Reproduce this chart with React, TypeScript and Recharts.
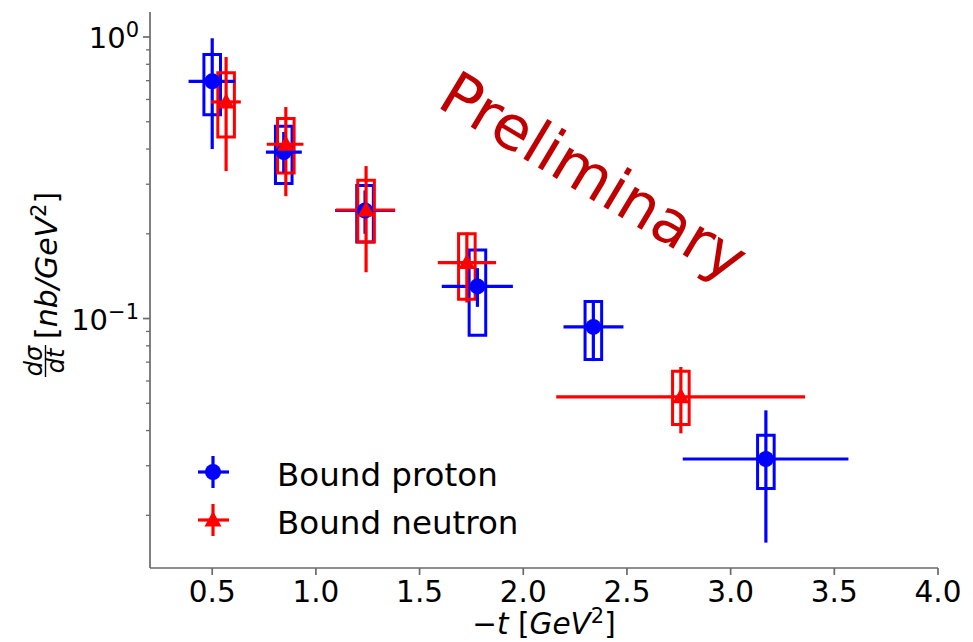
import React from 'react';
import {
  ScatterChart,
  Scatter,
  XAxis,
  YAxis,
  ErrorBar,
  ReferenceArea,
  Legend,
  Customized,
} from 'recharts';

const FONT = '"DejaVu Sans", "Liberation Sans", sans-serif';

// ---- Bound proton ----
const protonT = [0.5, 0.845, 1.237, 1.779, 2.338, 3.17];
const protonXsec = [0.696, 0.39, 0.242, 0.13, 0.0934, 0.0317];
const protonTLow = [0.386, 0.759, 1.093, 1.607, 2.194, 2.769];
const protonTHigh = [0.611, 0.932, 1.382, 1.95, 2.483, 3.568];
const protonStatLow = [0.4, 0.33, 0.2, 0.11, 0.0706, 0.016];
const protonStatHigh = [0.99, 0.46, 0.285, 0.151, 0.116, 0.0472];
const protonSysLow = [0.53, 0.302, 0.187, 0.0873, 0.0715, 0.0249];
const protonSysHigh = [0.866, 0.482, 0.297, 0.175, 0.115, 0.0385];

// ---- Bound neutron ----
const neutronT = [0.567, 0.855, 1.242, 1.728, 2.76];
const neutronXsec = [0.588, 0.416, 0.243, 0.158, 0.0527];
const neutronTLow = [0.494, 0.763, 1.096, 1.588, 2.159];
const neutronTHigh = [0.638, 0.94, 1.382, 1.869, 3.359];
const neutronStatLow = [0.334, 0.272, 0.146, 0.114, 0.0391];
const neutronStatHigh = [0.849, 0.564, 0.348, 0.202, 0.0673];
const neutronSysLow = [0.441, 0.329, 0.187, 0.117, 0.042];
const neutronSysHigh = [0.747, 0.513, 0.31, 0.2, 0.065];

const seriesNames = ['Bound proton', 'Bound neutron'];

// ---- axes ----
const xTicks = [0.5, 1.0, 1.5, 2.0, 2.5, 3.0, 3.5, 4.0];
const xDomain = [0.2, 4.0];
const yDomain = [0.013, 1.227];
const yMajorTicks = [0.1, 1];
const yMajorLabels = ['\u22121', '0'];
const yMinorTicks = [0.02, 0.03, 0.04, 0.05, 0.06, 0.07, 0.08, 0.09, 0.2, 0.3, 0.4, 0.5, 0.6, 0.7, 0.8, 0.9];

const BOX_HALF_WIDTH = 0.04;
const BLUE = '#0000ff';
const RED = '#ff0000';
const AXIS_COLOR = '#6a6a6a';
const ERR_W = 3.2;

function buildRows(t, v, tl, th, sl, sh, bl, bh) {
  return t.map((x, i) => ({
    x,
    y: v[i],
    ex: [x - tl[i], th[i] - x],
    ey: [v[i] - sl[i], sh[i] - v[i]],
    boxLow: bl[i],
    boxHigh: bh[i],
  }));
}

const protonRows = buildRows(protonT, protonXsec, protonTLow, protonTHigh, protonStatLow, protonStatHigh, protonSysLow, protonSysHigh);
const neutronRows = buildRows(neutronT, neutronXsec, neutronTLow, neutronTHigh, neutronStatLow, neutronStatHigh, neutronSysLow, neutronSysHigh);

const CircleMarker = (props: any) => {
  const { cx, cy } = props;
  if (cx == null || cy == null) return null;
  return <circle cx={cx} cy={cy} r={8} fill={BLUE} />;
};

const TriangleMarker = (props: any) => {
  const { cx, cy } = props;
  if (cx == null || cy == null) return null;
  return <path d={`M${cx},${cy - 9} L${cx + 8.5},${cy + 6.5} L${cx - 8.5},${cy + 6.5} Z`} fill={RED} />;
};

const YTick = (props: any) => {
  const { x, y, payload } = props;
  const v = payload.value;
  const mi = yMajorTicks.findIndex((m) => Math.abs(m - v) < 1e-9);
  const major = mi >= 0;
  return (
    <g>
      <line x1={x} x2={x - (major ? 7 : 4)} y1={y} y2={y} stroke={AXIS_COLOR} strokeWidth={major ? 1.7 : 1.3} />
      {major && (
        <text x={x - 11} y={y + 11} textAnchor="end" fontSize={29} fontFamily={FONT} fill="#000">
          <tspan>10</tspan>
          <tspan dy={-11} fontSize={21}>{yMajorLabels[mi]}</tspan>
        </text>
      )}
    </g>
  );
};

const XTick = (props: any) => {
  const { x, y, payload } = props;
  return (
    <g>
      <line x1={x} x2={x} y1={y} y2={y + 7} stroke={AXIS_COLOR} strokeWidth={1.7} />
      <text x={x} y={y + 34} textAnchor="middle" fontSize={29.5} fontFamily={FONT} fill="#000">
        {Number(payload.value).toFixed(1)}
      </text>
    </g>
  );
};

const XLabel = (props: any) => {
  const vb = props.viewBox || {};
  const cx = vb.x + vb.width / 2;
  const by = vb.y + 66;
  return (
    <text x={cx} y={by} textAnchor="middle" fontSize={29.5} fontFamily={FONT} fill="#000">
      <tspan>{'\u2212'}</tspan>
      <tspan fontStyle="italic">t</tspan>
      <tspan> [</tspan>
      <tspan fontStyle="italic">GeV</tspan>
      <tspan dy={-11} fontSize={21}>2</tspan>
      <tspan dy={11}>]</tspan>
    </text>
  );
};

const YLabel = (props: any) => {
  const vb = props.viewBox || {};
  const cx = 45;
  const cy = vb.y + vb.height / 2 - 3;
  return (
    <g transform={`rotate(-90, ${cx}, ${cy})`} fontFamily={FONT} fill="#000">
      <text x={cx - 74} y={cy - 3} textAnchor="middle" fontSize={24} fontStyle="italic">d{'\u03C3'}</text>
      <line x1={cx - 90} x2={cx - 58} y1={cy + 0.5} y2={cy + 0.5} stroke="#000" strokeWidth={1.4} />
      <text x={cx - 74} y={cy + 19} textAnchor="middle" fontSize={24} fontStyle="italic">dt</text>
      <text x={cx - 52} y={cy + 12} fontSize={30}>
        <tspan>[</tspan>
        <tspan fontStyle="italic">nb/GeV</tspan>
        <tspan dy={-11} fontSize={21}>2</tspan>
        <tspan dy={11}>]</tspan>
      </text>
    </g>
  );
};

const Watermark = () => (
  <text
    x={594}
    y={176}
    transform="rotate(31, 594, 176)"
    textAnchor="middle"
    dominantBaseline="central"
    fontSize={61}
    fontFamily={FONT}
    fill="#c00000"
  >
    Preliminary
  </text>
);

const LegendContent = (props: any) => {
  const payload = [...(props.payload || [])].sort(
    (a: any, b: any) => seriesNames.indexOf(a.value) - seriesNames.indexOf(b.value)
  );
  return (
    <svg width={380} height={100} style={{ display: 'block', overflow: 'visible' }}>
      {payload.map((p: any, i: number) => {
        const cy = 22 + i * 48;
        const color = p.color || (i === 0 ? BLUE : RED);
        const isTri = p.type === 'triangle';
        return (
          <g key={i}>
            <line x1={8} x2={39} y1={cy} y2={cy} stroke={color} strokeWidth={ERR_W} />
            <line x1={23} x2={23} y1={cy - 16} y2={cy + 16} stroke={color} strokeWidth={ERR_W} />
            {isTri ? (
              <path d={`M23,${cy - 9} L31.5,${cy + 6.5} L14.5,${cy + 6.5} Z`} fill={color} />
            ) : (
              <circle cx={23} cy={cy} r={8} fill={color} />
            )}
            <text x={87} y={cy + 14} fontSize={32.5} fontFamily={FONT} fill="#000">
              {p.value}
            </text>
          </g>
        );
      })}
    </svg>
  );
};

export default function App() {
  return (
    <div style={{ position: 'absolute', left: 0, top: 0, width: 973, height: 642, background: '#fff' }}>
      <ScatterChart width={973} height={642} margin={{ top: 12, right: 35, bottom: 0, left: 0 }}>
        <XAxis
          type="number"
          dataKey="x"
          domain={xDomain}
          ticks={xTicks}
          allowDataOverflow
          height={74}
          tickSize={0}
          tickMargin={0}
          tickLine={false}
          tick={<XTick />}
          axisLine={{ stroke: AXIS_COLOR, strokeWidth: 1.7 }}
          label={{ content: <XLabel /> }}
        />
        <YAxis
          type="number"
          dataKey="y"
          scale="log"
          domain={yDomain}
          ticks={[...yMinorTicks, ...yMajorTicks]}
          allowDataOverflow
          width={150}
          tickSize={0}
          tickMargin={0}
          tickLine={false}
          tick={<YTick />}
          interval={0}
          axisLine={{ stroke: AXIS_COLOR, strokeWidth: 1.7 }}
          label={{ content: <YLabel /> }}
        />
        {protonRows.map((r, i) => (
          <ReferenceArea
            key={`pb${i}`}
            x1={r.x - BOX_HALF_WIDTH}
            x2={r.x + BOX_HALF_WIDTH}
            y1={r.boxLow}
            y2={r.boxHigh}
            fill="none"
            fillOpacity={0}
            stroke={BLUE}
            strokeWidth={3}
            strokeOpacity={1}
            ifOverflow="visible"
          />
        ))}
        <Scatter
          name={seriesNames[0]}
          data={protonRows}
          fill={BLUE}
          legendType="circle"
          shape={<CircleMarker />}
          isAnimationActive={false}
        >
          <ErrorBar dataKey="ex" direction="x" width={0} stroke={BLUE} strokeWidth={ERR_W} isAnimationActive={false} />
          <ErrorBar dataKey="ey" direction="y" width={0} stroke={BLUE} strokeWidth={ERR_W} isAnimationActive={false} />
        </Scatter>
        {neutronRows.map((r, i) => (
          <ReferenceArea
            key={`nb${i}`}
            x1={r.x - BOX_HALF_WIDTH}
            x2={r.x + BOX_HALF_WIDTH}
            y1={r.boxLow}
            y2={r.boxHigh}
            fill="none"
            fillOpacity={0}
            stroke={RED}
            strokeWidth={3}
            strokeOpacity={1}
            ifOverflow="visible"
          />
        ))}
        <Scatter
          name={seriesNames[1]}
          data={neutronRows}
          fill={RED}
          legendType="triangle"
          shape={<TriangleMarker />}
          isAnimationActive={false}
        >
          <ErrorBar dataKey="ex" direction="x" width={0} stroke={RED} strokeWidth={ERR_W} isAnimationActive={false} />
          <ErrorBar dataKey="ey" direction="y" width={0} stroke={RED} strokeWidth={ERR_W} isAnimationActive={false} />
        </Scatter>
        <Customized component={<Watermark />} />
        <Legend
          layout="vertical"
          align="center"
          verticalAlign="middle"
          content={<LegendContent />}
          wrapperStyle={{ position: 'absolute', left: 190, top: 450, width: 380, height: 100 }}
        />
      </ScatterChart>
    </div>
  );
}
